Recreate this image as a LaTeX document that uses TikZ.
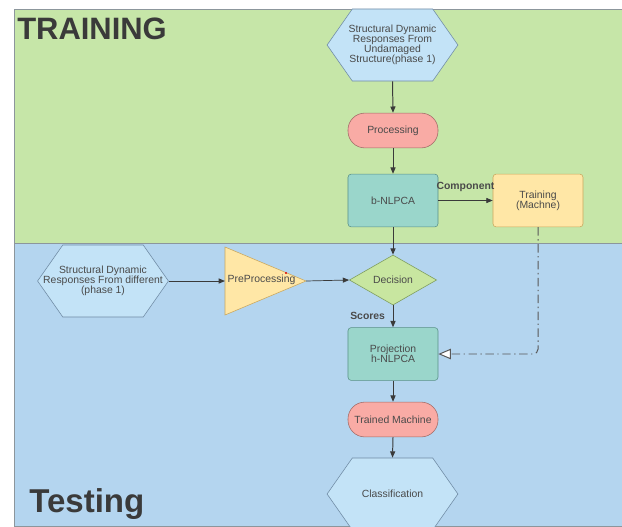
\documentclass[tikz,border=0pt]{standalone}
\usepackage{fontspec}
\setmainfont{Liberation Sans}
\usetikzlibrary{arrows.meta, shapes.geometric, shapes.symbols}
\definecolor{trainbg}{HTML}{C6E6A8}
\definecolor{testbg}{HTML}{B4D5EF}
\definecolor{bandedge}{HTML}{8C969C}
\definecolor{hexfill}{HTML}{C3E3F7}
\definecolor{hexedge}{HTML}{6F8BA4}
\definecolor{procfill}{HTML}{F9ABA5}
\definecolor{procedge}{HTML}{A06A66}
\definecolor{nlfill}{HTML}{9AD6CB}
\definecolor{nledge}{HTML}{5A9187}
\definecolor{yelfill}{HTML}{FFE7A6}
\definecolor{yeledge}{HTML}{C9A75E}
\definecolor{decfill}{HTML}{C8E6A0}
\definecolor{decedge}{HTML}{7C9A5A}
\definecolor{arrcol}{HTML}{3A3A3A}
\definecolor{txtgray}{HTML}{4A4A4A}
\newcommand{\flowfont}{\fontsize{7.4}{7}\selectfont}
\newcommand{\bandfont}{\fontsize{22}{24}\selectfont\bfseries}

\begin{document}
\begin{tikzpicture}[x=0.025cm, y=-0.025cm,
  band/.style={draw=bandedge, line width=0.6pt},
  hexbox/.style={signal, signal to=west and east, signal pointer angle=110,
                 draw=hexedge, fill=hexfill, minimum width=3.27cm,
                 minimum height=1.8cm, inner sep=0pt},
  hextxt/.style={font=\flowfont, text=txtgray, align=center},
  pill/.style={rectangle, rounded corners=0.42cm, draw=procedge, fill=procfill,
               minimum width=2.25cm, minimum height=0.87cm, font=\flowfont,
               text=txtgray},
  nlbox/.style={rectangle, rounded corners=0.08cm, draw=nledge, fill=nlfill,
                minimum width=2.25cm, minimum height=1.32cm, align=center,
                font=\flowfont, text=txtgray},
  trbox/.style={rectangle, rounded corners=0.08cm, draw=yeledge, fill=yelfill,
                minimum width=2.25cm, minimum height=1.32cm, align=center,
                font=\flowfont, text=txtgray},
  decbox/.style={diamond, draw=decedge, fill=decfill, minimum width=2.18cm,
                 minimum height=1.25cm, inner sep=0pt, font=\flowfont,
                 text=txtgray},
  arr/.style={draw=arrcol, line width=0.7pt, -{Triangle[length=4.5pt, width=3.6pt]}},
  dd/.style={draw=arrcol!85, line width=0.7pt, rounded corners=0.12cm,
             dash pattern=on 6pt off 2.5pt on 1pt off 2.5pt,
             -{Triangle[open, fill=white, length=9pt, width=7.5pt]}},
  lab/.style={font=\flowfont\bfseries, text=txtgray},
]
\useasboundingbox (0,0) rectangle (622,526);
% the two bands
\filldraw[band, fill=trainbg] (14,9) rectangle (622,243);
\filldraw[band, fill=testbg] (14,243) rectangle (622,526);
\node[font=\bandfont, text=arrcol, anchor=base west, inner sep=0pt] (trtitle) at (17,39) {TRAINING};
\node[font=\fontsize{23.5}{25}\selectfont\bfseries, text=arrcol, anchor=base west, inner sep=0pt] (tstitle) at (29,512) {Testing};

% training column
\node[hexbox, label={[hextxt]center:{Structural Dynamic\\Responses From\\Undamaged\\Structure(phase 1)}}] (undam) at (392.5,45) {};
\node[pill] (proc) at (393,130.5) {Processing};
\node[nlbox] (bnl) at (393,200.5) {b-NLPCA};
\node[trbox] (train) at (538,200.5) {Training\\(Machne)};

% testing row and column
\node[hexbox, label={[hextxt]center:{Structural Dynamic\\Responses From different\\(phase 1)}}] (diff) at (103,281) {};
\coordinate (prepbase) at (225,281);
\coordinate (preptip) at (306,281);
\filldraw[draw=yeledge, fill=yelfill] (225,247) -- (preptip) -- (225,315) -- cycle;
\node[font=\flowfont, text=txtgray, anchor=west, inner sep=1pt] (prep) at (226,280) {PreProcessing};
\fill[red!85!black] (286,273) circle (0.8pt);
\node[decbox] (dec) at (393,280) {Decision};
\node[nlbox] (proj) at (393,354) {Projection\\h-NLPCA};
\node[pill] (trm) at (393,419.5) {Trained Machine};
\node[hexbox, label={[hextxt]center:{Classification}}] (cls) at (392.5,494) {};

\draw[arr] (undam.south) -- (proc.north);
\draw[arr] (proc.south) -- (bnl.north);
\draw[arr, line width=0.5pt] (bnl.east) -- node[above=3pt, lab] {Component} (train.west);
\draw[arr] (bnl.south) -- (dec.north);
\draw[arr] (diff.east) -- (prepbase);
\draw[arr, line width=0.5pt] (preptip) -- (dec.west);
\draw[arr] (dec.south) -- node[left=2pt, lab] {Scores} (proj.north);
\draw[arr] (proj.south) -- (trm.north);
\draw[arr] (trm.south) -- (cls.north);
% trained model handed back to the projection step
\draw[dd] (train.south) |- (proj.east);
\end{tikzpicture}
\end{document}
